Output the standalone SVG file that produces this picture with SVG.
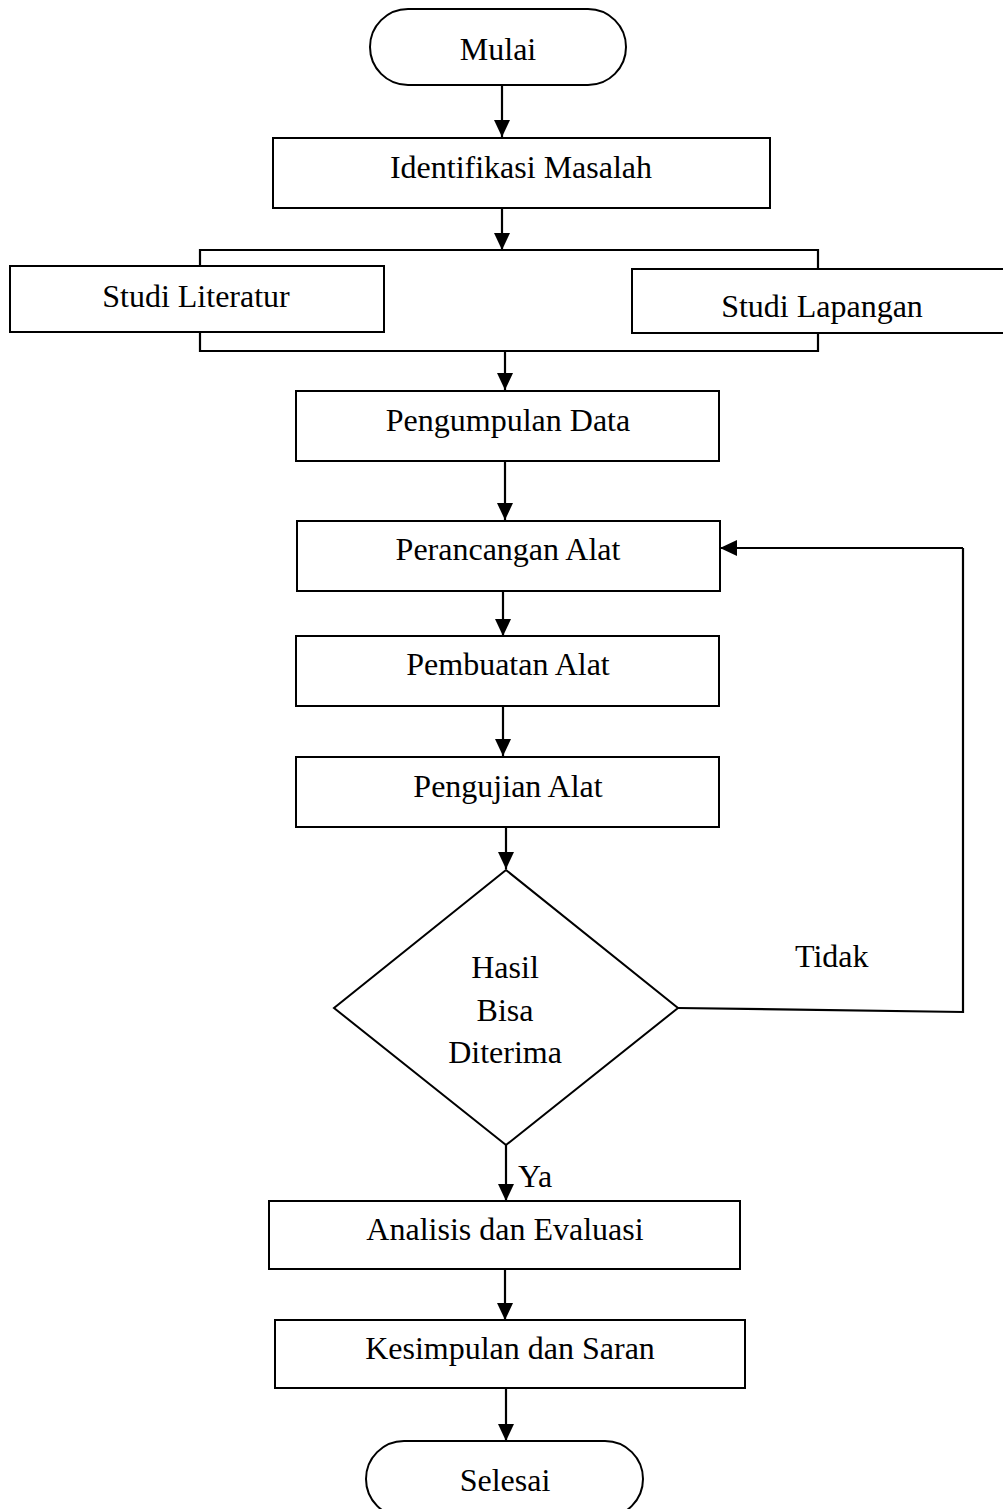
<svg xmlns="http://www.w3.org/2000/svg" width="1003" height="1509" viewBox="0 0 1003 1509">
<style>
.box{fill:#fff;stroke:#000;stroke-width:2}
.ln{fill:none;stroke:#000;stroke-width:2.2}
.t{font-family:"Liberation Serif","Times New Roman",serif;font-size:32px;fill:#000;text-anchor:middle}
.tl{font-family:"Liberation Serif","Times New Roman",serif;font-size:32px;fill:#000}
</style>
<defs>
<marker id="ah" markerWidth="17" markerHeight="16" refX="17" refY="8" orient="auto" markerUnits="userSpaceOnUse">
<path d="M0,0 L17,8 L0,16 Z" fill="#000"/>
</marker>
</defs>
<rect width="1003" height="1509" fill="#fff"/>
<g id="connectors">
<line class="ln" x1="502" y1="85" x2="502" y2="137" marker-end="url(#ah)"/>
<line class="ln" x1="502" y1="208" x2="502" y2="250" marker-end="url(#ah)"/>
<polyline class="ln" points="200,266 200,250 818,250 818,269"/>
<polyline class="ln" points="200,333 200,351 818,351 818,334"/>
<line class="ln" x1="505" y1="351" x2="505" y2="390" marker-end="url(#ah)"/>
<line class="ln" x1="505" y1="461" x2="505" y2="520" marker-end="url(#ah)"/>
<line class="ln" x1="503" y1="591" x2="503" y2="636" marker-end="url(#ah)"/>
<line class="ln" x1="503" y1="706" x2="503" y2="756" marker-end="url(#ah)"/>
<line class="ln" x1="506" y1="827" x2="506" y2="869" marker-end="url(#ah)"/>
<polyline class="ln" points="678,1008 963,1012 963,548"/>
<line class="ln" x1="963" y1="548" x2="720" y2="548" marker-end="url(#ah)"/>
<line class="ln" x1="506" y1="1145" x2="506" y2="1201" marker-end="url(#ah)"/>
<line class="ln" x1="505" y1="1269" x2="505" y2="1320" marker-end="url(#ah)"/>
<line class="ln" x1="506" y1="1388" x2="506" y2="1441" marker-end="url(#ah)"/>
<text class="tl" x="795" y="967">Tidak</text>
<text class="tl" x="518" y="1187">Ya</text>
</g>
<g id="mulai">
<rect class="box" x="370" y="9" width="256" height="76" rx="38" ry="38"/>
<text class="t" x="498" y="60">Mulai</text>
</g>
<g id="identifikasi">
<rect class="box" x="273" y="138" width="497" height="70"/>
<text class="t" x="521" y="178">Identifikasi Masalah</text>
</g>
<g id="studi-literatur">
<rect class="box" x="10" y="266" width="374" height="66"/>
<text class="t" x="196" y="307">Studi Literatur</text>
</g>
<g id="studi-lapangan">
<rect class="box" x="632" y="269" width="380" height="64"/>
<text class="t" x="822" y="317">Studi Lapangan</text>
</g>
<g id="pengumpulan">
<rect class="box" x="296" y="391" width="423" height="70"/>
<text class="t" x="508" y="431">Pengumpulan Data</text>
</g>
<g id="perancangan">
<rect class="box" x="297" y="521" width="423" height="70"/>
<text class="t" x="508" y="560">Perancangan Alat</text>
</g>
<g id="pembuatan">
<rect class="box" x="296" y="636" width="423" height="70"/>
<text class="t" x="508" y="675">Pembuatan Alat</text>
</g>
<g id="pengujian">
<rect class="box" x="296" y="757" width="423" height="70"/>
<text class="t" x="508" y="797">Pengujian Alat</text>
</g>
<g id="keputusan">
<polygon class="box" points="506,870 678,1008 506,1145 334,1008"/>
<text class="t" x="505" y="978">Hasil</text>
<text class="t" x="505" y="1021">Bisa</text>
<text class="t" x="505" y="1063">Diterima</text>
</g>
<g id="analisis">
<rect class="box" x="269" y="1201" width="471" height="68"/>
<text class="t" x="505" y="1240">Analisis dan Evaluasi</text>
</g>
<g id="kesimpulan">
<rect class="box" x="275" y="1320" width="470" height="68"/>
<text class="t" x="510" y="1359">Kesimpulan dan Saran</text>
</g>
<g id="selesai">
<rect class="box" x="366" y="1441" width="277" height="76" rx="38" ry="38"/>
<text class="t" x="505" y="1491">Selesai</text>
</g>
</svg>
